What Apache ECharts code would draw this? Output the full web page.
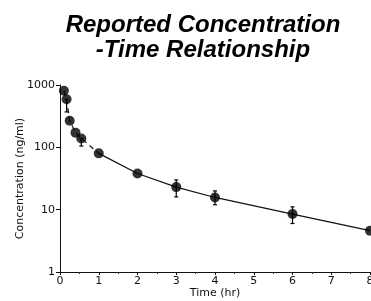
<!DOCTYPE html>
<html>
<head>
<meta charset="utf-8">
<script src="https://cdn.jsdelivr.net/npm/echarts@6/dist/echarts.min.js"></script>
<style>
  html, body { margin: 0; padding: 0; background: #fff; }
  #main { width: 371px; height: 301px; }
</style>
</head>
<body>
<div id="main"></div>
<script>
// mean concentrations
const timeHr = [0.1, 0.17, 0.25, 0.4, 0.55, 1, 2, 3, 4, 6, 8];
const conc = [810, 590, 267, 172, 139, 80, 38, 23, 15.7, 8.5, 4.6];
// first part of the curve is drawn dashed
const dashUntil = 1;

// error bars (low / high)
const errTime = [0.17, 0.55, 3, 4, 6];
const errLow = [370, 105, 16, 12, 6.0];
const errHigh = [590, 139, 30, 20, 11.1];

const xTicks = ['0', '1', '2', '3', '4', '5', '6', '7', '8'];

const chart = echarts.init(document.getElementById('main'));

const pts = timeHr.map((t, i) => [t, conc[i]]);
const dashPts = pts.filter(p => p[0] <= dashUntil);
const solidPts = pts.filter(p => p[0] >= dashUntil);
const errData = errTime.map((t, i) => [t, errLow[i], errHigh[i]]);

const labelFont = { fontFamily: 'DejaVu Sans', fontSize: 11, color: '#111' };

chart.setOption({
  animation: false,
  title: {
    text: 'Reported Concentration\n-Time Relationship',
    left: 198,
    top: 8,
    textAlign: 'center',
    textStyle: {
      fontFamily: 'Liberation Sans',
      fontSize: 24,
      fontWeight: 'bold',
      fontStyle: 'italic',
      color: '#000',
      lineHeight: 25
    }
  },
  grid: { left: 60, right: 1, top: 85, bottom: 29, outerBoundsMode: 'none' },
  xAxis: {
    type: 'value',
    min: 0, max: 8, interval: 1,
    name: 'Time (hr)',
    nameLocation: 'middle',
    nameGap: 16,
    nameMoveOverlap: false,
    nameTextStyle: labelFont,
    axisLine: { lineStyle: { color: '#111', width: 1 } },
    axisTick: { length: 3, lineStyle: { color: '#111' } },
    minorTick: { show: true, splitNumber: 2, length: 2, lineStyle: { color: '#333' } },
    axisLabel: Object.assign({ margin: 4, formatter: v => xTicks[Math.round(v)] ?? '' }, labelFont),
    splitLine: { show: false }
  },
  yAxis: {
    type: 'log',
    logBase: 10,
    min: 1, max: 1000,
    name: 'Concentration (ng/ml)',
    nameLocation: 'middle',
    nameGap: 34,
    nameMoveOverlap: false,
    nameTextStyle: labelFont,
    axisLine: { show: true, lineStyle: { color: '#111', width: 1 } },
    axisTick: { show: true, length: 4, lineStyle: { color: '#111' } },
    axisLabel: Object.assign({ margin: 5, formatter: v => String(Math.round(v)) }, labelFont),
    splitLine: { show: false }
  },
  series: [
    {
      type: 'line',
      data: dashPts,
      symbol: 'none',
      lineStyle: { color: '#111', width: 1.2, type: [5, 4] },
      clip: false,
      z: 2
    },
    {
      type: 'line',
      data: solidPts,
      symbol: 'none',
      lineStyle: { color: '#111', width: 1.2 },
      clip: false,
      z: 2
    },
    {
      type: 'custom',
      data: errData,
      clip: false,
      z: 3,
      renderItem: (params, api) => {
        const lo = api.coord([api.value(0), api.value(1)]);
        const hi = api.coord([api.value(0), api.value(2)]);
        const cap = 2;
        const style = { stroke: '#000', lineWidth: 1.2 };
        return {
          type: 'group',
          children: [
            { type: 'line', shape: { x1: lo[0], y1: lo[1], x2: hi[0], y2: hi[1] }, style },
            { type: 'line', shape: { x1: lo[0] - cap, y1: lo[1], x2: lo[0] + cap, y2: lo[1] }, style },
            { type: 'line', shape: { x1: hi[0] - cap, y1: hi[1], x2: hi[0] + cap, y2: hi[1] }, style }
          ]
        };
      }
    },
    {
      type: 'scatter',
      data: pts,
      symbol: 'circle',
      symbolSize: 10,
      itemStyle: { color: '#000' },
      clip: false,
      z: 4
    }
  ]
});
</script>
</body>
</html>
